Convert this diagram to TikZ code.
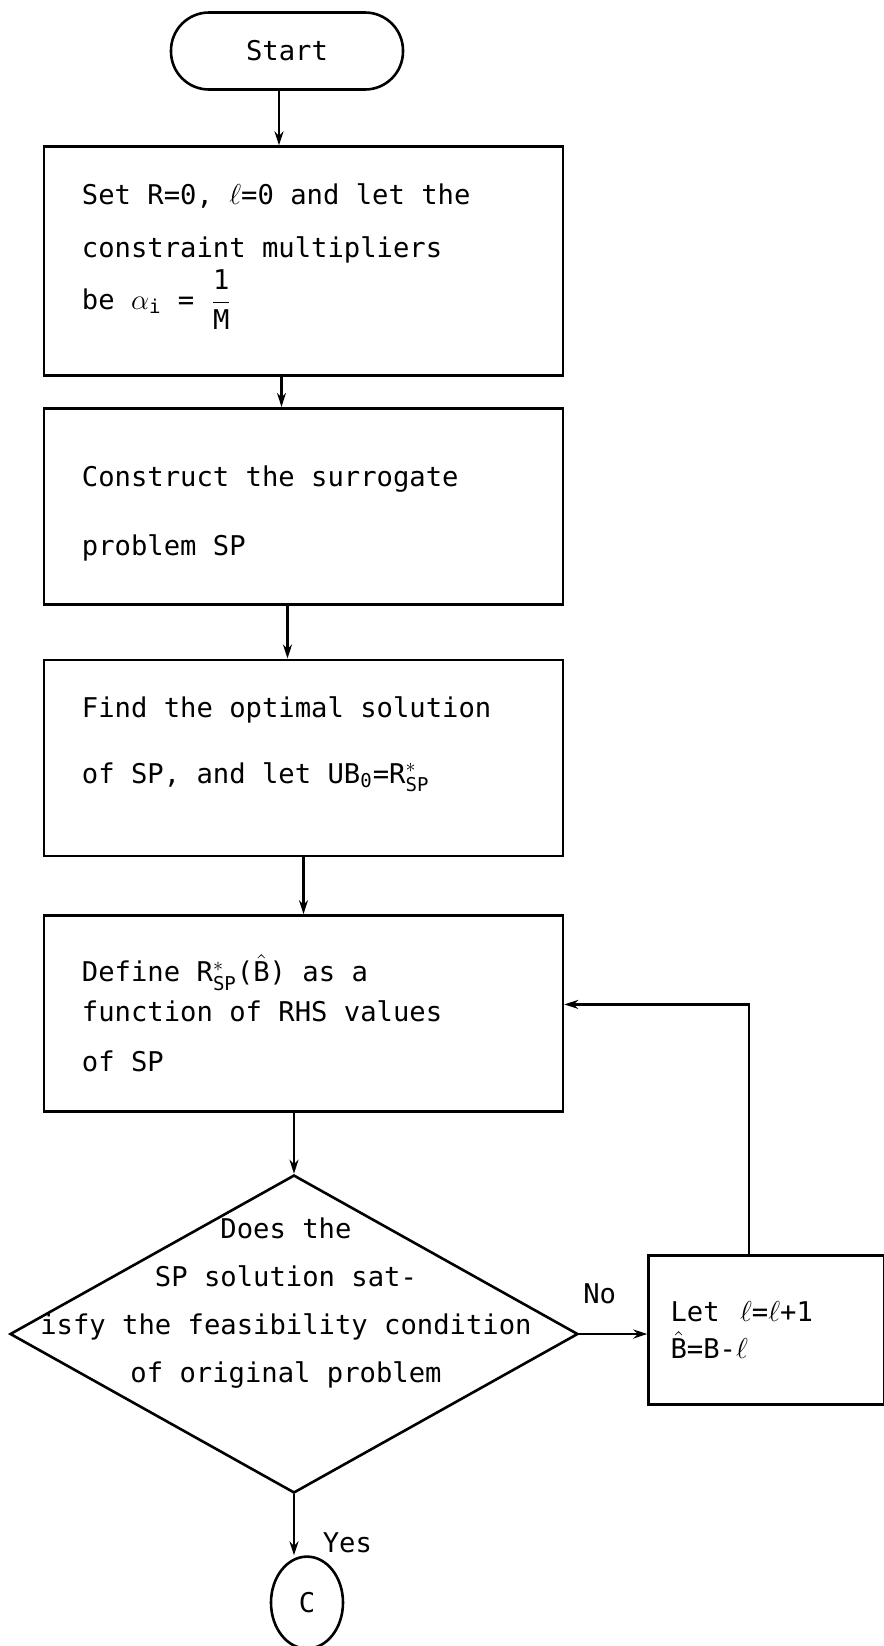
\documentclass[tikz,border=0pt]{standalone}
\usepackage{amsmath}
\usepackage{fontspec}
\setmainfont{DejaVu Sans Mono}[WordSpace={1,0,0},PunctuationSpace=WordSpace]
\usepackage{tikz}
\usetikzlibrary{positioning,shapes.geometric,arrows.meta}
\tikzset{proc/.style={rectangle,draw,line width=1.3pt,align=left,inner xsep=19pt,text width=221.5pt,minimum height=98pt,
		execute at begin node={\spaceskip=0.602em\relax}},
	 term/.style={rectangle,draw,line width=1.3pt,rounded corners=19pt,minimum width=116pt,minimum height=38.5pt},
	 decis/.style={diamond,draw,line width=1.3pt,minimum width=284pt,minimum height=159pt,inner sep=0pt},
	 conn/.style={ellipse,draw,line width=1.3pt,minimum width=36pt,minimum height=46pt,inner sep=0pt},
	 arr/.style={-{Stealth[length=7pt,width=4.5pt]},line width=1.1pt},
	 every node/.style={font=\fontsize{13.6}{20}\selectfont\frenchspacing}
	 }

\begin{document}
\begin{tikzpicture} % surrogate problem flow chart
	\useasboundingbox (0,0) rectangle (442pt,-823pt);
        \node[term] (s) at (143.5pt,-25.5pt) {Start};
        \node[proc,minimum height=114.5pt] (b1) [below=27.25pt of s,xshift=8.25pt]
		{Set R=0, $\ell$=0 and let the\\[6.5pt]constraint multipliers\\[2.3pt]be $\alpha_{\text{i}}$ = $\dfrac{\text{1}}{\text{M}}$\rule[-14.5pt]{0pt}{14.5pt}};
        \node[proc] (b2) [below=15pt of b1]
		{\rule{0pt}{17.5pt}Construct the surrogate\\[14.5pt]problem SP};
        \node[proc] (b3) [below=26.5pt of b2]
		{Find the optimal solution\\[13pt]of SP, and let UB$_{\text{0}}$=R$^{*}_{\text{SP}}$\rule[-18pt]{0pt}{18pt}};
        \node[proc] (b4) [below=28.5pt of b3]
		{Define R$^{*}_{\text{SP}}$($\hat{\text{B}}$) as a\\function of RHS values\\[5pt]of SP};
        \node[decis] (d) [below=30.5pt of b4,xshift=-4.75pt] {};
        \node[align=center] at ([xshift=-4pt,yshift=15.5pt]d.center)
		{Does the\\[4pt]SP solution sat-\\[4pt]isfy the feasibility condition\\[4pt]of original problem};
        \node[proc,text width=96pt,inner xsep=11pt,minimum height=74.5pt] (b5) [right=34pt of d,yshift=2pt]
		{Let\ \hspace{2pt}$\ell$=$\ell$+1\\[-1.5pt]$\hat{\text{B}}$=B-$\ell$};
        \node[conn] (c) [below=30.5pt of d,xshift=6.5pt] {C};
	\draw[arr] ([xshift=-4pt]s.south) -- ([xshift=-4pt]s.south |- b1.north);
	\draw[arr] ([xshift=-11pt]b1.south) -- ([xshift=-11pt]b2.north);
	\draw[arr] ([xshift=-8pt]b2.south) -- ([xshift=-8pt]b3.north);
	\draw[arr] (b3.south) -- (b4.north);
	\draw[arr] (b4.south -| d.north) -- (d.north);
	\draw[arr] (d.east) -- (d.east -| b5.west) node[above=11pt,pos=0.3] {No};
	\draw[arr] ([xshift=-9pt]b5.north) |- ([yshift=4.5pt]b4.east);
	\draw[arr] (d.south) -- (d.south |- c.north) node[right=10.5pt,pos=0.8] {Yes};
     \end{tikzpicture}
\end{document}
